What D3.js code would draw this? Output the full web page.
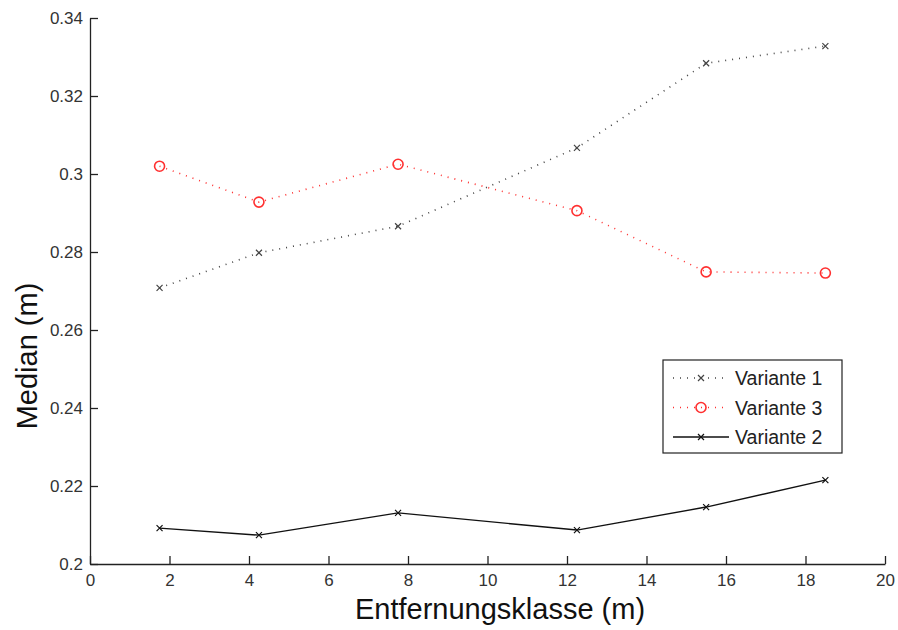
<!DOCTYPE html>
<html>
<head>
<meta charset="utf-8">
<script src="https://cdn.jsdelivr.net/npm/d3@7"></script>
<style>
  body { margin: 0; background: #fff; }
  svg { display: block; font-family: "Liberation Sans", Arial, sans-serif; }
</style>
</head>
<body>
<svg width="898" height="630"></svg>
<script>
// x positions (Entfernungsklasse, m)
var klassen = [1.75, 4.25, 7.75, 12.25, 15.5, 18.5];

// median values per variant
var variante1 = [0.2708, 0.2798, 0.2866, 0.3067, 0.3284, 0.3328];
var variante3 = [0.3020, 0.2928, 0.3025, 0.2906, 0.2749, 0.2746];
var variante2 = [0.2092, 0.2074, 0.2131, 0.2087, 0.2146, 0.2215];

var xTicks = [0, 2, 4, 6, 8, 10, 12, 14, 16, 18, 20];
var yTicks = [0.2, 0.22, 0.24, 0.26, 0.28, 0.3, 0.32, 0.34];

var svg = d3.select("svg");

var plotLeft = 90, plotRight = 885, plotTop = 18, plotBottom = 564;

var x = d3.scaleLinear().domain([0, 20]).range([plotLeft, plotRight]);
var y = d3.scaleLinear().domain([0.2, 0.34]).range([plotBottom, plotTop]);

/* axes, matlab style: ticks pointing inwards */
var xAxis = d3.axisBottom(x).tickValues(xTicks).tickSizeOuter(0)
    .tickFormat(d3.format("d"));
var yAxis = d3.axisLeft(y).tickValues(yTicks).tickSizeOuter(0).tickPadding(1)
    .tickFormat(function(d) { return +d.toFixed(2); });

var gx = svg.append("g").attr("transform", "translate(0," + plotBottom + ")").call(xAxis);
var gy = svg.append("g").attr("transform", "translate(" + plotLeft + ",0)").call(yAxis);

// flip the tick marks inside the plot
gx.selectAll(".tick line").attr("y1", 0).attr("y2", -8);
gy.selectAll(".tick line").attr("x1", 0).attr("x2", 8);
gx.selectAll(".tick text").attr("y", 22).attr("dy", null);

[gx, gy].forEach(function(g) {
    g.attr("font-family", null).attr("font-size", 17);
    g.select(".domain").attr("stroke", "#222").attr("stroke-width", 1.3);
    g.selectAll(".tick line").attr("stroke", "#222").attr("stroke-width", 1.3);
    g.selectAll(".tick text").attr("fill", "#333");
});

var line = d3.line()
    .x(function(d, i) { return x(klassen[i]); })
    .y(function(d) { return y(d); });

var series = [
    {name: "Variante 1", values: variante1, color: "#444", dash: "1,6", marker: "x"},
    {name: "Variante 3", values: variante3, color: "#ff3030", dash: "1,6", marker: "o"},
    {name: "Variante 2", values: variante2, color: "#111", dash: null, marker: "x"}
];

function drawMarker(g, type, cx, cy, color) {
    if (type === "o") {
        g.append("circle").attr("cx", cx).attr("cy", cy).attr("r", 5)
            .attr("fill", "none").attr("stroke", color).attr("stroke-width", 1.6);
    } else {
        var s = 3;
        g.append("path")
            .attr("d", "M" + (cx - s) + "," + (cy - s) + "L" + (cx + s) + "," + (cy + s) +
                       "M" + (cx - s) + "," + (cy + s) + "L" + (cx + s) + "," + (cy - s))
            .attr("stroke", color).attr("stroke-width", 1.2);
    }
}

series.forEach(function(s) {
    var g = svg.append("g");
    g.append("path")
        .attr("d", line(s.values))
        .attr("fill", "none")
        .attr("stroke", s.color)
        .attr("stroke-width", s.dash ? 1.6 : 1.4)
        .attr("stroke-dasharray", s.dash);
    s.values.forEach(function(v, i) {
        drawMarker(g, s.marker, x(klassen[i]), y(v), s.color);
    });
});

/* legend */
var lg = svg.append("g").attr("transform", "translate(663,360)");
lg.append("rect").attr("width", 179).attr("height", 93)
    .attr("fill", "#fff").attr("stroke", "#222").attr("stroke-width", 1.2);

series.forEach(function(s, i) {
    var yy = 18 + i * 29.5;
    lg.append("line").attr("x1", 10).attr("x2", 66).attr("y1", yy).attr("y2", yy)
        .attr("stroke", s.color).attr("stroke-width", s.dash ? 1.6 : 1.4)
        .attr("stroke-dasharray", s.dash);
    drawMarker(lg, s.marker, 38, yy, s.color);
    lg.append("text").attr("x", 72).attr("y", yy + 7)
        .attr("font-size", 19.5).attr("fill", "#222").text(s.name);
});

/* axis titles */
svg.append("text")
    .attr("x", 500).attr("y", 619)
    .attr("text-anchor", "middle")
    .attr("font-size", 29)
    .attr("fill", "#111")
    .text("Entfernungsklasse (m)");

svg.append("text")
    .attr("transform", "translate(37,356) rotate(-90)")
    .attr("text-anchor", "middle")
    .attr("font-size", 29)
    .attr("fill", "#111")
    .text("Median (m)");
</script>
</body>
</html>
